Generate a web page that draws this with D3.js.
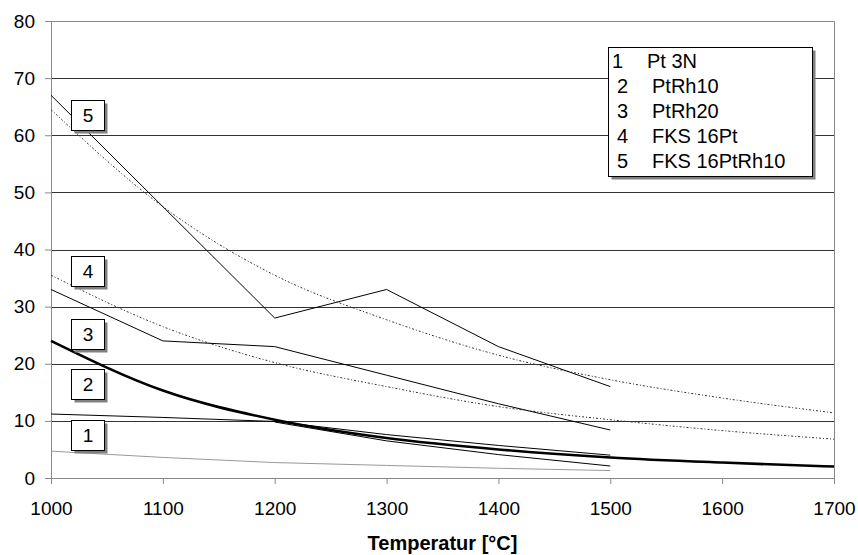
<!DOCTYPE html>
<html>
<head>
<meta charset="utf-8">
<script src="https://cdn.jsdelivr.net/npm/d3@7"></script>
<style>
  body { margin: 0; background: #fff; }
  text { font-family: "Liberation Sans", Arial, sans-serif; fill: #000; }
</style>
</head>
<body>
<div id="chart"></div>
<script>
// measured temperatures and fitted temperatures
var tempsMeasured = [1000, 1100, 1200, 1300, 1400, 1500];
var tempsFit = [1000, 1100, 1200, 1300, 1400, 1500, 1600, 1700];
var tempsLate = [1200, 1300, 1400, 1500];

// measured series (solid thin lines)
var fks16PtRh10 = [67, 47.5, 28, 33, 23, 16];
var fks16Pt = [33, 24, 23, 18, 13, 8.4];
var ptRh20 = [11.2, 10.6, 9.9, 7.6, 5.7, 4.0];
var ptRh10 = [9.8, 6.5, 4.1, 2.1];
var pt3N = [4.7, 3.6, 2.7, 2.2, 1.7, 1.3];

// fitted series (dotted + thick)
var fitFks16PtRh10 = [64.5, 47.5, 35.5, 27.7, 21.5, 17.2, 14, 11.4];
var fitFks16Pt = [35.5, 26.5, 20.2, 16.0, 12.5, 10.2, 8.3, 6.8];
var fitThick = [24, 15.3, 10.2, 7.0, 5.0, 3.6, 2.7, 2.0];

var xTicks = [1000, 1100, 1200, 1300, 1400, 1500, 1600, 1700];
var yTicks = [0, 10, 20, 30, 40, 50, 60, 70, 80];

var legendNums = ["1", "2", "3", "4", "5"];
var legendNames = ["Pt 3N", "PtRh10", "PtRh20", "FKS 16Pt", "FKS 16PtRh10"];
// label boxes on the left, value of y where the box sits
var boxNums = ["5", "4", "3", "2", "1"];
var boxValues = [63.5, 36.2, 25.2, 16.4, 7.6];

var svgWidth = 858;
var svgHeight = 555;
var margin = { top: 21, right: 24, bottom: 77, left: 51 };
var width = svgWidth - margin.left - margin.right;
var height = svgHeight - margin.top - margin.bottom;

var svg = d3.select("#chart")
  .append("svg")
  .attr("width", svgWidth)
  .attr("height", svgHeight);

var chartGroup = svg.append("g")
  .attr("transform", `translate(${margin.left}, ${margin.top})`);

var xScale = d3.scaleLinear().domain([1000, 1700]).range([0, width]);
var yScale = d3.scaleLinear().domain([0, 80]).range([height, 0]);

// gridlines
chartGroup.append("g")
  .selectAll("line")
  .data(yTicks.filter(d => d > 0 && d < 80))
  .enter()
  .append("line")
  .attr("x1", 0)
  .attr("x2", width)
  .attr("y1", d => Math.round(yScale(d)) + 0.5)
  .attr("y2", d => Math.round(yScale(d)) + 0.5)
  .attr("stroke", "#333")
  .attr("stroke-width", 1);

// frame (top and right)
chartGroup.append("path")
  .attr("d", `M0,0.5H${width + 0.5}V${height}`)
  .attr("fill", "none")
  .attr("stroke", "#888");

// axes
var bottomAxis = d3.axisBottom(xScale).tickValues(xTicks).tickSize(6).tickPadding(18).tickFormat(d3.format("d"));
var leftAxis = d3.axisLeft(yScale).tickValues(yTicks).tickSize(6).tickPadding(10);

var xAxis = chartGroup.append("g")
  .attr("transform", `translate(0, ${height})`)
  .call(bottomAxis);

var yAxis = chartGroup.append("g")
  .call(leftAxis);

[xAxis, yAxis].forEach(function(ax) {
  ax.select(".domain").attr("stroke", "#888");
  ax.selectAll(".tick line").attr("stroke", "#888");
  ax.selectAll(".tick text")
    .style("font-family", "Liberation Sans, Arial, sans-serif")
    .style("font-size", "19px")
    .attr("fill", "#000");
});

// line generators
var lineMeasured = d3.line()
  .x((d, i) => xScale(tempsMeasured[i]))
  .y(d => yScale(d));

var lineLate = d3.line()
  .x((d, i) => xScale(tempsLate[i]))
  .y(d => yScale(d));

var lineFit = d3.line()
  .curve(d3.curveMonotoneX)
  .x((d, i) => xScale(tempsFit[i]))
  .y(d => yScale(d));

var linesGroup = chartGroup.append("g").attr("fill", "none");

// dotted fits
linesGroup.append("path")
  .attr("d", lineFit(fitFks16PtRh10))
  .attr("stroke", "#333")
  .attr("stroke-width", 1)
  .attr("stroke-dasharray", "2,2,1,2");

linesGroup.append("path")
  .attr("d", lineFit(fitFks16Pt))
  .attr("stroke", "#333")
  .attr("stroke-width", 1)
  .attr("stroke-dasharray", "2,2,1,2");

// measured
linesGroup.append("path")
  .attr("d", lineMeasured(pt3N))
  .attr("stroke", "#999")
  .attr("stroke-width", 1);

linesGroup.append("path")
  .attr("d", lineMeasured(fks16PtRh10))
  .attr("stroke", "#000")
  .attr("stroke-width", 1);

linesGroup.append("path")
  .attr("d", lineMeasured(fks16Pt))
  .attr("stroke", "#000")
  .attr("stroke-width", 1);

linesGroup.append("path")
  .attr("d", lineMeasured(ptRh20))
  .attr("stroke", "#000")
  .attr("stroke-width", 1);

linesGroup.append("path")
  .attr("d", lineLate(ptRh10))
  .attr("stroke", "#000")
  .attr("stroke-width", 1);

// thick fit
linesGroup.append("path")
  .attr("d", lineFit(fitThick))
  .attr("stroke", "#000")
  .attr("stroke-width", 2.6);

// number boxes on the left
var boxW = 33, boxH = 30;
var boxes = chartGroup.append("g")
  .selectAll("g")
  .data(boxNums)
  .enter()
  .append("g")
  .attr("transform", (d, i) => `translate(20, ${Math.round(yScale(boxValues[i]) - boxH / 2)})`);

boxes.append("rect")
  .attr("x", 3.5).attr("y", 3.5)
  .attr("width", boxW).attr("height", boxH)
  .attr("fill", "#808080");

boxes.append("rect")
  .attr("x", 0.5).attr("y", 0.5)
  .attr("width", boxW).attr("height", boxH)
  .attr("fill", "#fff")
  .attr("stroke", "#000");

boxes.append("text")
  .attr("x", boxW / 2 + 0.5)
  .attr("y", boxH / 2 + 7)
  .attr("text-anchor", "middle")
  .style("font-size", "19px")
  .text(d => d);

// legend
var legend = svg.append("g").attr("transform", "translate(608, 47)");
legend.append("rect")
  .attr("x", 3.5).attr("y", 3.5)
  .attr("width", 204).attr("height", 129)
  .attr("fill", "#808080");
legend.append("rect")
  .attr("x", 0.5).attr("y", 0.5)
  .attr("width", 204).attr("height", 129)
  .attr("fill", "#fff")
  .attr("stroke", "#000");

var rows = legend.selectAll("g.row")
  .data(legendNames)
  .enter()
  .append("g")
  .attr("class", "row")
  .attr("transform", (d, i) => `translate(0, ${14 + i * 25})`);

rows.append("text")
  .attr("x", (d, i) => i === 0 ? 4 : 9)
  .attr("y", 0)
  .attr("dy", "0.35em")
  .style("font-size", "20px")
  .text((d, i) => legendNums[i]);

rows.append("text")
  .attr("x", (d, i) => i === 0 ? 39 : 44)
  .attr("y", 0)
  .attr("dy", "0.35em")
  .style("font-size", "20px")
  .text(d => d);

// x axis title
svg.append("text")
  .attr("x", margin.left + width / 2)
  .attr("y", 550)
  .attr("text-anchor", "middle")
  .style("font-size", "20px")
  .style("font-weight", "bold")
  .text("Temperatur [°C]");
</script>
</body>
</html>
